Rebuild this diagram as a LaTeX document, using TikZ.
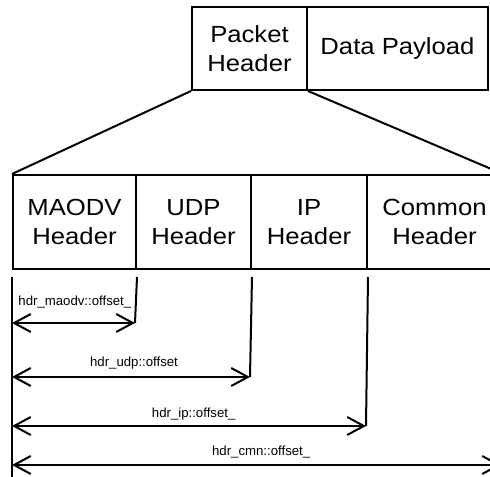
\documentclass[tikz,border=0pt]{standalone}
\usepackage{fontspec}
\setmainfont{Liberation Sans}
\newfontfamily\boxfont{Liberation Sans}[FakeStretch=1.1]
\usetikzlibrary{arrows.meta}
\begin{document}
\begin{tikzpicture}[x=0.75pt,y=-0.75pt,
  box/.style={draw, line width=1.5pt, inner sep=0pt, align=center,
    font=\boxfont\fontsize{17.5}{21.75}\selectfont, anchor=north west},
  toprow/.style={box, minimum height=62.25pt},
  hdrrow/.style={box, minimum height=70.5pt},
  ext/.style={line width=1.5pt},
  barb/.tip={Straight Barb[length=12.5pt,width=13.5pt]},
  dim/.style={line width=1.5pt, barb-barb},
  lbl/.style={font=\fontsize{9.9}{11}\selectfont, anchor=base, inner sep=0pt}]
\useasboundingbox (0,0) rectangle (490,477);
\clip (0,0) rectangle (490,477);

% packet
\node[toprow, minimum width=86.25pt] (pkt) at (191,6) {Packet\\Header};
\node[toprow, minimum width=135.75pt] (data) at (306,6) {Data Payload};

% stacked headers
\node[hdrrow, minimum width=92.25pt] (maodv) at (12,174) {MAODV\\Header};
\node[hdrrow, minimum width=86.25pt] (udp) at (135,174) {UDP\\Header};
\node[hdrrow, minimum width=87pt] (ip) at (250,174) {IP\\Header};
\node[hdrrow, minimum width=101.25pt] (cmn) at (366,174) {Common\\Header};

% expansion of the packet header
\draw[ext] (pkt.south west) -- (maodv.north west);
\draw[ext] (pkt.south east) -- (cmn.north east);

% offset end points
\coordinate (s1) at (12,323);  \coordinate (t1) at (135,323);
\coordinate (s2) at (12,377);  \coordinate (t2) at (250,377);
\coordinate (s3) at (12,426);  \coordinate (t3) at (366,426);
\coordinate (s4) at (12,465);  \coordinate (t4) at (501,465);
\coordinate (bot) at (12,490);

% extension lines
\draw[ext] ([yshift=-5.25pt]maodv.south west) -- (bot);
\draw[ext] ([yshift=-5.25pt]maodv.south east) -- (t1);
\draw[ext] ([yshift=-5.25pt]udp.south east) -- (t2);
\draw[ext] ([yshift=-5.25pt]ip.south east) -- (t3);
\draw[ext] ([yshift=-5.25pt]cmn.south east) -- (t4);

% offsets
\draw[dim] (s1) -- (t1) node[lbl, midway, xshift=1pt, yshift=12.75pt] {hdr\_maodv::offset\_};
\draw[dim] (s2) -- (t2) node[lbl, midway, xshift=2.25pt, yshift=7.5pt] {hdr\_udp::offset};
\draw[dim] (s3) -- (t3) node[lbl, midway, xshift=3.5pt, yshift=6pt] {hdr\_ip::offset\_};
\draw[dim] (s4) -- (t4) node[lbl, midway, xshift=3.5pt, yshift=6.75pt] {hdr\_cmn::offset\_};
\end{tikzpicture}
\end{document}
